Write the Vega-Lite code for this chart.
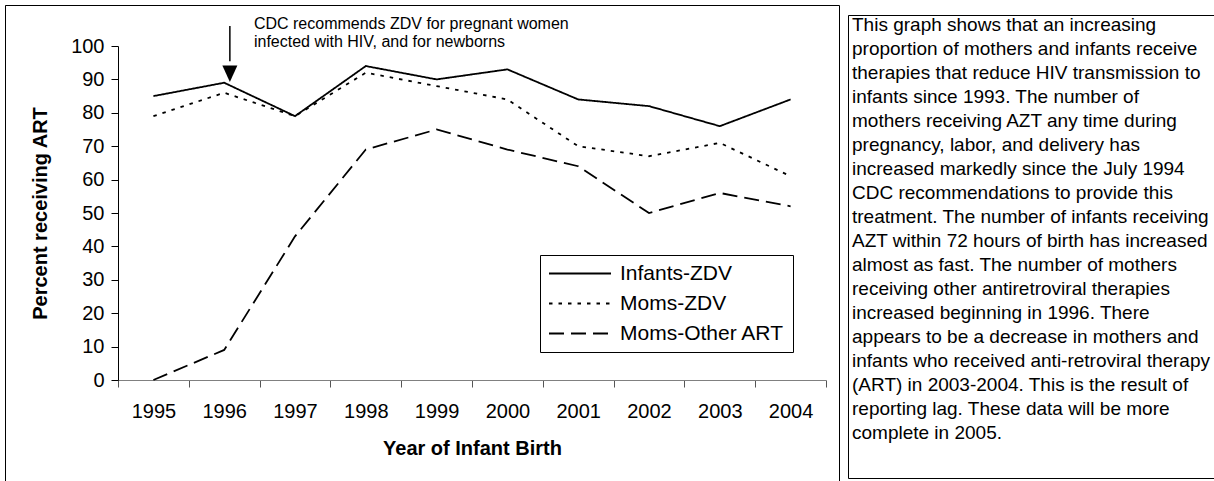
{
  "$schema": "https://vega.github.io/schema/vega-lite/v6.json",
  "padding": {"left": 4, "top": 4, "right": 0, "bottom": 0},
  "background": "white",
  "spacing": 7,
  "config": {"font": "Liberation Sans", "view": {"stroke": null}, "axis": {"grid": false}},
  "hconcat": [
    {
      "width": 834,
      "height": 476,
      "view": {"stroke": "black", "strokeWidth": 1, "strokeDash": [1310, 834, 500]},
      "layer": [
        {
          "data": {"values": [
            {"year": 1995, "series": "Infants-ZDV", "value": 85},
            {"year": 1996, "series": "Infants-ZDV", "value": 89},
            {"year": 1997, "series": "Infants-ZDV", "value": 79},
            {"year": 1998, "series": "Infants-ZDV", "value": 94},
            {"year": 1999, "series": "Infants-ZDV", "value": 90},
            {"year": 2000, "series": "Infants-ZDV", "value": 93},
            {"year": 2001, "series": "Infants-ZDV", "value": 84},
            {"year": 2002, "series": "Infants-ZDV", "value": 82},
            {"year": 2003, "series": "Infants-ZDV", "value": 76},
            {"year": 2004, "series": "Infants-ZDV", "value": 84},
            {"year": 1995, "series": "Moms-ZDV", "value": 79},
            {"year": 1996, "series": "Moms-ZDV", "value": 86},
            {"year": 1997, "series": "Moms-ZDV", "value": 79},
            {"year": 1998, "series": "Moms-ZDV", "value": 92},
            {"year": 1999, "series": "Moms-ZDV", "value": 88},
            {"year": 2000, "series": "Moms-ZDV", "value": 84},
            {"year": 2001, "series": "Moms-ZDV", "value": 70},
            {"year": 2002, "series": "Moms-ZDV", "value": 67},
            {"year": 2003, "series": "Moms-ZDV", "value": 71},
            {"year": 2004, "series": "Moms-ZDV", "value": 61},
            {"year": 1995, "series": "Moms-Other ART", "value": 0},
            {"year": 1996, "series": "Moms-Other ART", "value": 9},
            {"year": 1997, "series": "Moms-Other ART", "value": 43},
            {"year": 1998, "series": "Moms-Other ART", "value": 69},
            {"year": 1999, "series": "Moms-Other ART", "value": 75},
            {"year": 2000, "series": "Moms-Other ART", "value": 69},
            {"year": 2001, "series": "Moms-Other ART", "value": 64},
            {"year": 2002, "series": "Moms-Other ART", "value": 50},
            {"year": 2003, "series": "Moms-Other ART", "value": 56},
            {"year": 2004, "series": "Moms-Other ART", "value": 52}
          ]},
          "mark": {"type": "line", "color": "black", "strokeWidth": 1.8},
          "encoding": {
            "x": {
              "field": "year", "type": "ordinal", "title": "Year of Infant Birth", "bandPosition": 0.5,
              "scale": {"type": "band", "domain": [1995, 1996, 1997, 1998, 1999, 2000, 2001, 2002, 2003, 2004], "range": [113, 821], "paddingInner": 0, "paddingOuter": 0},
              "axis": {
                "tickBand": "extent", "labelAngle": 0, "labelOverlap": false,
                "tickSize": 7, "labelPadding": 14, "labelFontSize": 20, "labelColor": "black", "labelFont": "Liberation Sans",
                "domainColor": "#808080", "domainWidth": 1.2, "tickColor": "#555555", "tickWidth": 1,
                "titleFontSize": 20, "titleFontWeight": "bold", "titleColor": "black", "titleFont": "Liberation Sans",
                "titlePadding": 17, "offset": -101, "grid": false
              }
            },
            "y": {
              "field": "value", "type": "quantitative", "title": "Percent receiving ART",
              "scale": {"domain": [0, 100], "range": [375, 41], "nice": false},
              "axis": {
                "values": [0, 10, 20, 30, 40, 50, 60, 70, 80, 90, 100],
                "tickSize": 7, "labelPadding": 7, "labelFontSize": 20, "labelColor": "black", "labelFont": "Liberation Sans",
                "domainColor": "black", "tickColor": "black",
                "titleFontSize": 20, "titleFontWeight": "bold", "titleColor": "black", "titleFont": "Liberation Sans",
                "titlePadding": 20, "offset": -113, "grid": false
              }
            },
            "strokeDash": {
              "field": "series", "type": "nominal",
              "scale": {"domain": ["Infants-ZDV", "Moms-ZDV", "Moms-Other ART"], "range": [[1, 0], [3.5, 6], [15, 7]]},
              "legend": {
                "title": null, "orient": "none", "legendX": 535, "legendY": 250,
                "strokeColor": "black", "fillColor": "white", "padding": 8,
                "labelFontSize": 21, "labelColor": "black", "labelFont": "Liberation Sans", "labelLimit": 400,
                "symbolType": "stroke", "symbolSize": 3844, "symbolStrokeWidth": 1.8, "symbolStrokeColor": "black",
                "clipHeight": 21, "rowPadding": 8, "labelOffset": 8
              }
            }
          }
        },
        {
          "data": {"values": [{"year": 1996, "top": 106, "bottom": 95.4}]},
          "mark": {"type": "rule", "color": "black", "strokeWidth": 1.5},
          "encoding": {
            "x": {"field": "year", "type": "ordinal", "title": "Year of Infant Birth", "bandPosition": 0.58},
            "y": {"field": "top", "type": "quantitative", "title": "Percent receiving ART"},
            "y2": {"field": "bottom"}
          }
        },
        {
          "data": {"values": [{"year": 1996, "tip": 91.7}]},
          "mark": {"type": "point", "shape": "M-1,-1.1L1,-1.1L0,1.1Z", "filled": true, "color": "black", "opacity": 1, "size": 225},
          "encoding": {
            "x": {"field": "year", "type": "ordinal", "title": "Year of Infant Birth", "bandPosition": 0.58},
            "y": {"field": "tip", "type": "quantitative", "title": "Percent receiving ART"}
          }
        },
        {
          "data": {"values": [{"year": 1996, "level": 106.6, "note": ["CDC recommends ZDV for pregnant women", "infected with HIV, and for newborns"]}]},
          "mark": {"type": "text", "align": "left", "baseline": "middle", "fontSize": 16, "lineHeight": 18, "color": "black", "font": "Liberation Sans"},
          "encoding": {
            "x": {"field": "year", "type": "ordinal", "title": "Year of Infant Birth", "bandPosition": 0.92},
            "y": {"field": "level", "type": "quantitative", "title": "Percent receiving ART"},
            "text": {"field": "note"}
          }
        }
      ]
    },
    {
      "spacing": 0,
      "vconcat": [
        {
          "width": 369,
          "height": 9,
          "data": {"values": []},
          "mark": "point"
        },
        {
          "width": 369,
          "height": 463,
          "view": {"stroke": "black", "strokeWidth": 1, "strokeDash": [369, 463, 900]},
          "data": {"values": [{"lines": [
            "This graph shows that an increasing",
            "proportion of mothers and infants receive",
            "therapies that reduce HIV transmission to",
            "infants since 1993.  The number of",
            "mothers receiving AZT any time during",
            "pregnancy, labor, and delivery has",
            "increased markedly since the July 1994",
            "CDC recommendations to provide this",
            "treatment. The number of infants receiving",
            "AZT within 72 hours of birth has increased",
            "almost as fast. The number of mothers",
            "receiving other antiretroviral therapies",
            "increased beginning in 1996.  There",
            "appears to be a  decrease in mothers and",
            "infants who received anti-retroviral therapy",
            "(ART) in 2003-2004.  This is the result of",
            "reporting lag.  These data will be more",
            "complete in 2005."
          ]}]},
          "mark": {"type": "text", "align": "left", "baseline": "top", "fontSize": 19, "lineHeight": 24, "dx": 4, "dy": 1, "color": "black", "font": "Liberation Sans"},
          "encoding": {
            "text": {"field": "lines"},
            "x": {"datum": 0, "type": "quantitative", "scale": {"domain": [0, 1]}, "axis": null},
            "y": {"datum": 1, "type": "quantitative", "scale": {"domain": [0, 1]}, "axis": null}
          }
        }
      ]
    }
  ]
}
